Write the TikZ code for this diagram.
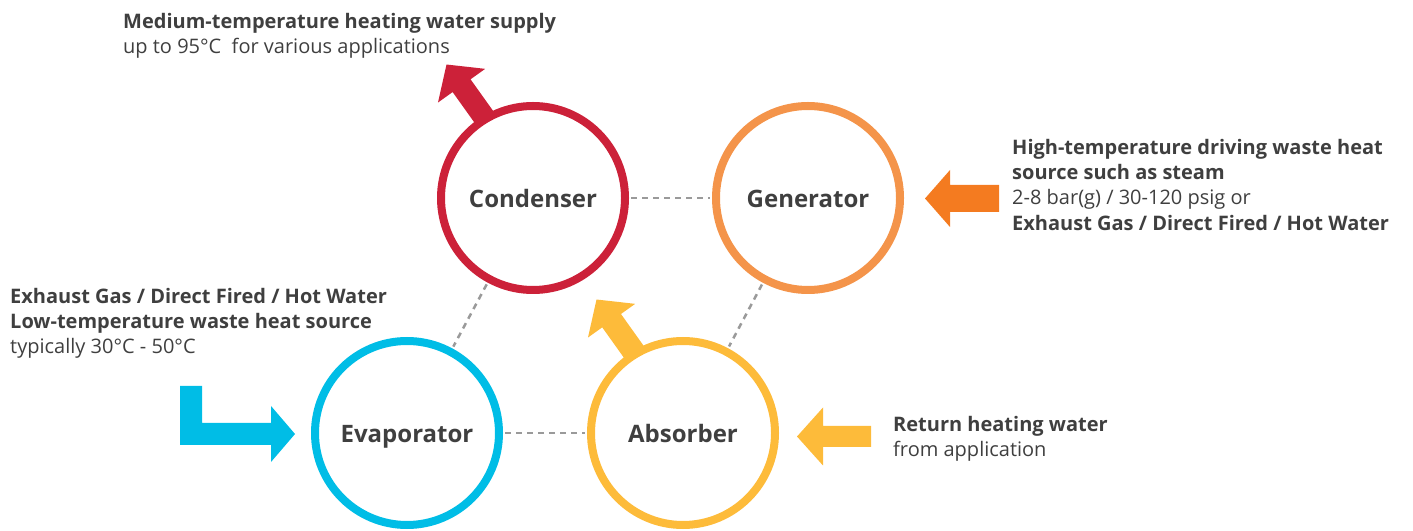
\documentclass[tikz,border=0pt]{standalone}
\usepackage{fontspec}
\setmainfont{Open Sans}
\usetikzlibrary{calc}
\definecolor{cred}{HTML}{CC2139}
\definecolor{corg}{HTML}{F4944A}
\definecolor{corgdark}{HTML}{F47B20}
\definecolor{ccyan}{HTML}{00BDE6}
\definecolor{cyel}{HTML}{FDBB3A}
\definecolor{ctext}{HTML}{3F3F3F}
\definecolor{cdash}{HTML}{9A9A9A}
% color, start, angle, length, shaft half width, head half width, head length
\newcommand\fatarrow[7]{%
  \begin{scope}[shift={#2},rotate=#3]
    \fill[#1] (0,-#5) -- ({#4-#7},-#5) -- ({#4-#7},-#6) -- (#4,0)
      -- ({#4-#7},#6) -- ({#4-#7},#5) -- (0,#5) -- cycle;
  \end{scope}}
\begin{document}
\begin{tikzpicture}[x=1pt,y=1pt,
  unit/.style={circle, draw, line width=8pt, minimum size=184pt, inner sep=0pt,
    text height=20pt, text depth=0pt,
    font=\fontsize{24}{28}\selectfont\bfseries, text=ctext},
  link/.style={draw=cdash, line width=2.5pt, dash pattern=on 6pt off 5pt, shorten <=2pt, shorten >=2pt},
  info/.style={align=left, anchor=north west, inner sep=0pt, text=ctext,
    font=\fontsize{20}{25.3}\selectfont}]
\useasboundingbox (0,0) rectangle (1413,530);

\node[unit, draw=cred] (cond) at (533,332) {Condenser};
\node[unit, draw=corg] (gen) at (808,332) {Generator};
\node[unit, draw=ccyan] (evap) at (407,97) {Evaporator};
\node[unit, draw=cyel] (abs) at (683,97) {Absorber};

\draw[link] (cond) -- (gen);
\draw[link] (evap) -- (abs);
\draw[link] (cond) -- (evap);
\draw[link] (gen) -- (abs);

\coordinate (redS) at ($(cond.center)+(-45.85,76.5)$);
\coordinate (yelS) at ($(abs.center)+(-45.85,76.5)$);
\coordinate (orgS) at (999,331.5);
\coordinate (retS) at (871,93.5);

\fatarrow{cred}{(redS)}{125.5}{70}{11}{29}{26}
\fatarrow{cyel}{(yelS)}{125.5}{70}{11.5}{29}{26}
\fatarrow{corgdark}{(orgS)}{180}{74}{13.5}{28.5}{25}
\fatarrow{cyel}{(retS)}{180}{74}{10.5}{29}{26}

\fill[ccyan] (180,144) -- (202,144) -- (202,107) -- (271,107) -- (271,124)
  -- (295,96) -- (271,68) -- (271,85) -- (180,85) -- cycle;

\node[info] (supply) at (123,517) {\textbf{Medium-temperature heating water supply}\\up to 95°C\ \ for various applications};
\node[info] (high) at (1012,391) {\textbf{High-temperature driving waste heat}\\\textbf{source such as steam}\\2-8 bar(g) / 30-120 psig or\\\textbf{Exhaust Gas / Direct Fired / Hot Water}};
\node[info] (low) at (10,242) {\textbf{Exhaust Gas / Direct Fired / Hot Water}\\\textbf{Low-temperature waste heat source}\\typically 30°C - 50°C};
\node[info] (ret) at (893,114) {\textbf{Return heating water}\\from application};
\end{tikzpicture}
\end{document}
